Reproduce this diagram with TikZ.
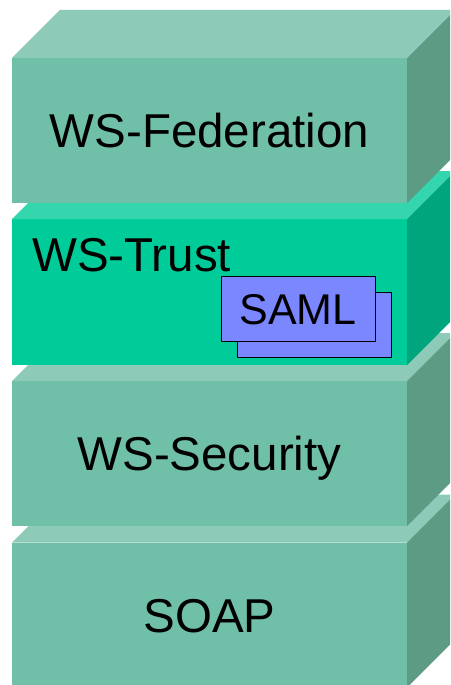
\documentclass[tikz,border=0pt]{standalone}
\usepackage{fontspec}
\setmainfont{Liberation Sans}

\definecolor{stackfront}{RGB}{112,191,168}
\definecolor{stacktop}{RGB}{141,203,184}
\definecolor{stackside}{RGB}{94,155,133}
\definecolor{trustfront}{RGB}{0,204,153}
\definecolor{trusttop}{RGB}{51,214,173}
\definecolor{trustside}{RGB}{0,165,125}
\definecolor{samlfill}{RGB}{122,135,255}

\tikzset{
  layer/.style={minimum width=395pt, minimum height=145pt, inner sep=0pt, outer sep=0pt,
    font=\fontsize{47.5}{57}\selectfont, text height=34pt, text depth=0pt},
  token/.style={draw=black, line width=1pt, fill=samlfill, minimum width=154pt,
    minimum height=65pt, inner sep=0pt, outer sep=0pt,
    font=\fontsize{43}{52}\selectfont, text height=31pt, text depth=0pt}
}

\begin{document}
\begin{tikzpicture}[x=1pt,y=-1pt]
		\useasboundingbox (0,0) rectangle (450,685);
		\clip (0,0) rectangle (450,685);
		
		% SOAP
		\node[layer, fill=stackfront] (soap) at (209.5,615) {SOAP};
		\fill[stacktop] (soap.north west) -- ++(48,-48) -- ([shift={(48,-48)}]soap.north east) -- (soap.north east) -- cycle;
		\fill[stackside] (soap.north east) -- ++(48,-48) -- ([shift={(48,-48)}]soap.south east) -- (soap.south east) -- cycle;
		
		% WS-Security
		\node[layer, fill=stackfront] (sec) at (209.5,453.5) {WS-Security};
		\fill[stacktop] (sec.north west) -- ++(48,-48) -- ([shift={(48,-48)}]sec.north east) -- (sec.north east) -- cycle;
		\fill[stackside] (sec.north east) -- ++(48,-48) -- ([shift={(48,-48)}]sec.south east) -- (sec.south east) -- cycle;
		
		% WS-Trust with SAML
		\node[layer, fill=trustfront, minimum height=146pt] (trust) at (209.5,292) {};
		\fill[trusttop] (trust.north west) -- ++(48,-48) -- ([shift={(48,-48)}]trust.north east) -- (trust.north east) -- cycle;
		\fill[trustside] (trust.north east) -- ++(48,-48) -- ([shift={(48,-48)}]trust.south east) -- (trust.south east) -- cycle;
		\node[anchor=base west, inner sep=0pt, font=\fontsize{47.5}{57}\selectfont] (trustlabel) at (32,271) {WS-Trust};
		\node[token] (samlback) at (314,324.5) {};
		\node[token] (saml) at (298,308.5) {SAML};
		
		% WS-Federation
		\node[layer, fill=stackfront] (fed) at (209.5,130.5) {WS-Federation};
		\fill[stacktop] (fed.north west) -- ++(48,-48) -- ([shift={(48,-48)}]fed.north east) -- (fed.north east) -- cycle;
		\fill[stackside] (fed.north east) -- ++(48,-48) -- ([shift={(48,-48)}]fed.south east) -- (fed.south east) -- cycle;
\end{tikzpicture}
\end{document}
